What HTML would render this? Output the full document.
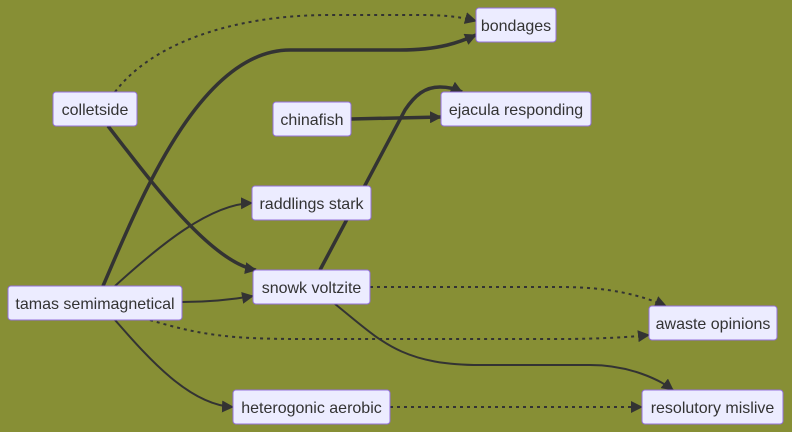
<!DOCTYPE html>
<html><head><meta charset="utf-8"><style>
html,body{margin:0;padding:0;background:#878f35;}
svg{display:block;}
text{font-family:"Liberation Sans","DejaVu Sans",sans-serif;font-size:16px;fill:#333;}
.node rect{fill:#ececff;stroke:#9370db;stroke-width:1;}
.e{fill:none;stroke:#333;}
.thin{stroke-width:2;}
.thick{stroke-width:3.5;}
.dot{stroke-width:2;stroke-dasharray:3,4;}
</style></head><body>
<svg width="792" height="432" viewBox="0 0 792 432">
<defs>
<marker id="ar" markerUnits="userSpaceOnUse" markerWidth="12" markerHeight="12" refX="11" refY="6" orient="auto"><path d="M0,0 L12,6 L0,12 z" fill="#333"/></marker>
</defs>
<g>
<path class="e dot" marker-end="url(#ar)" d="M115,92 C150,45 230,15 330,15 L420,15 C450,15 465,18 476,21"/>
<path class="e thick" marker-end="url(#ar)" d="M103,286 C140,200 200,50 290,50 L400,50 C440,50 460,42 476,35"/>
<path class="e thick" marker-end="url(#ar)" d="M108,126 C150,180 210,262 256,270"/>
<path class="e thick" marker-end="url(#ar)" d="M351,119 L441,117"/>
<path class="e thick" marker-end="url(#ar)" d="M320,270 L405,110 C415,95 425,87 440,87 C450,87 456,89 462,92"/>
<path class="e thin" marker-end="url(#ar)" d="M115,286 C160,245 210,204 252,203"/>
<path class="e thin" marker-end="url(#ar)" d="M182,302 C210,302 230,300 253,296"/>
<path class="e dot" marker-end="url(#ar)" d="M150,320 C200,335 230,339 300,339 L560,339 C600,339 630,337 649,335"/>
<path class="e dot" marker-end="url(#ar)" d="M370,287 L560,287 C610,287 640,295 666,306"/>
<path class="e thin" marker-end="url(#ar)" d="M335,304 C380,340 400,365 480,365 L590,365 C630,365 660,380 673,390"/>
<path class="e thin" marker-end="url(#ar)" d="M115,320 C150,360 190,405 233,407"/>
<path class="e dot" marker-end="url(#ar)" d="M390,407 L642,407"/>
</g>
<g class="node"><rect x="476" y="8" width="80" height="34" rx="3"/><text x="516" y="31" text-anchor="middle">bondages</text></g>
<g class="node"><rect x="53" y="92" width="84" height="34" rx="3"/><text x="95" y="115" text-anchor="middle">colletside</text></g>
<g class="node"><rect x="273" y="102" width="78" height="34" rx="3"/><text x="312" y="125" text-anchor="middle">chinafish</text></g>
<g class="node"><rect x="441" y="92" width="150" height="34" rx="3"/><text x="516" y="115" text-anchor="middle">ejacula responding</text></g>
<g class="node"><rect x="252" y="186" width="119" height="34" rx="3"/><text x="311.5" y="209" text-anchor="middle">raddlings stark</text></g>
<g class="node"><rect x="253" y="270" width="117" height="34" rx="3"/><text x="311.5" y="293" text-anchor="middle">snowk voltzite</text></g>
<g class="node"><rect x="8" y="286" width="174" height="34" rx="3"/><text x="95" y="309" text-anchor="middle">tamas semimagnetical</text></g>
<g class="node"><rect x="649" y="306" width="128" height="34" rx="3"/><text x="713" y="329" text-anchor="middle">awaste opinions</text></g>
<g class="node"><rect x="233" y="390" width="157" height="34" rx="3"/><text x="311.5" y="413" text-anchor="middle">heterogonic aerobic</text></g>
<g class="node"><rect x="642" y="390" width="141" height="34" rx="3"/><text x="712.5" y="413" text-anchor="middle">resolutory mislive</text></g>
</svg>
</body></html>
